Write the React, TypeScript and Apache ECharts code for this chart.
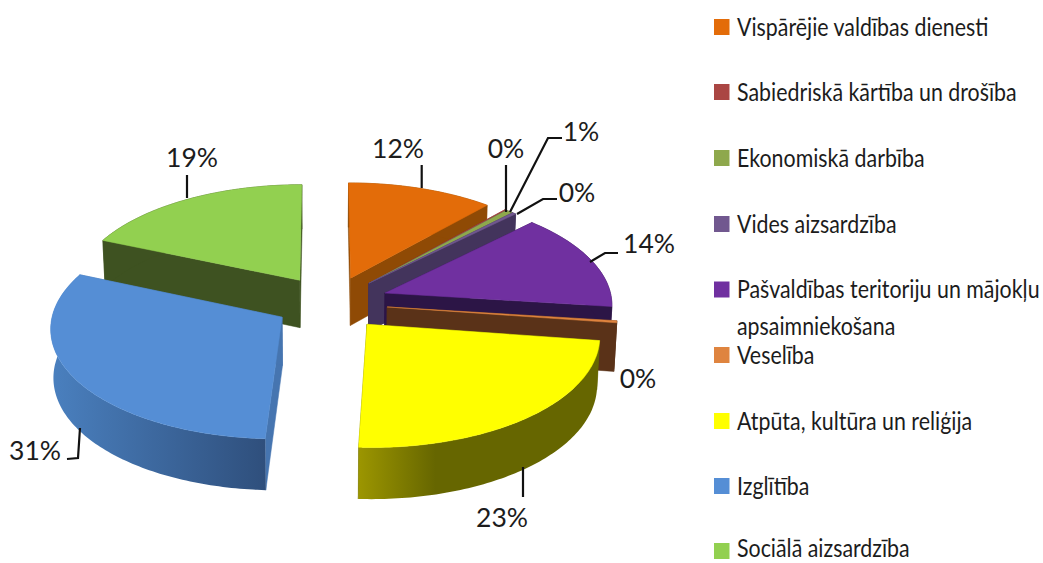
import React, { useEffect, useRef } from "react";
import * as echarts from "echarts";

const categories = [
  "Vispārējie valdības dienesti",
  "Sabiedriskā kārtība un drošība",
  "Ekonomiskā darbība",
  "Vides aizsardzība",
  "Pašvaldības teritoriju un mājokļu\napsaimniekošana",
  "Veselība",
  "Atpūta, kultūra un reliģija",
  "Izglītība",
  "Sociālā aizsardzība",
];
const shares = [11.5, 0.15, 0.6, 0.3, 14.45, 0.3, 23.49, 30.71, 18.5];

const topColors = ["#E36C09", "#AA4643", "#8EA84C", "#71588F", "#7030A0", "#DF843F", "#FFFF00", "#558ED5", "#92D050"];
const faceColors = ["#8F4A05", "#6E2D2B", "#43345C", "#43345C", "#2C1546", "#5A3218", "#666600", "#4675B0", "#3E5221"];
const drawOrder = [8, 0, 1, 2, 3, 4, 5, 7, 6];
const explodeSize = [0.245, 0.258, 0.258, 0.258, 0.276, 0.278, 0.279, 0.238, 0.226];
const explodeBearing = [28, 49.6, 49.6, 49.6, 74.4, 101.4, 139.4, 231.6, 330];

const labelCentres = [[398, 148], [506, 148], [581, 131], [577, 192], [649, 243], [638, 378], [502, 517], [35, 450], [192, 157]];
const leaders = [
  [[421.7, 165], [421.7, 188]],
  [[506, 165], [506, 212]],
  [[562, 138], [548, 138], [510, 212]],
  [[557, 199], [543, 199], [517, 214]],
  [[618, 253], [605, 253], [590, 262]],
  [],
  [[523, 467], [523, 497]],
  [[80, 428], [78, 458], [67, 459]],
  [[187, 175], [187, 198]],
];
const legendY = [27, 92, 158, 224, 289.5, 355, 421, 486, 551];
const legendTextY = [26, 91, 157, 223, 288.5, 354, 420, 485, 547.5];

const CX = 325, CY = 301, RX = 227, RY = 107.7, K = 0.09;
const FONT = "Lato";
const rad = (d: number) => (d * Math.PI) / 180;

function project(u: number, v: number): number[] {
  const w = 1 - K * v;
  return [CX + (RX * u) / w, CY + (RY * v) / w];
}
function drop(u: number, v: number): number[] {
  const p = project(u, v);
  return [CX + (p[0] - CX) * 0.99, p[1] + 48 + 3 * v];
}

const rimFill: Record<number, any> = {
  6: new echarts.graphic.LinearGradient(0, 0, 1, 0, [
    { offset: 0, color: "#9C9600" },
    { offset: 0.32, color: "#666600" },
    { offset: 1, color: "#666600" },
  ]),
  7: new echarts.graphic.LinearGradient(0, 0, 1, 0, [
    { offset: 0, color: "#4A80BF" },
    { offset: 1, color: "#2F4F7C" },
  ]),
};

function renderSlice(params: any, api: any) {
  const idx = drawOrder[params.dataIndex];
  const total = shares.reduce((a, b) => a + b, 0);
  let start = 0;
  for (let i = 0; i < idx; i++) start += (shares[i] / total) * 360;
  const end = start + (api.value(0) / total) * 360;
  const bu = explodeSize[idx] * Math.sin(rad(explodeBearing[idx]));
  const bv = -explodeSize[idx] * Math.cos(rad(explodeBearing[idx]));

  const rim: number[][] = [];
  const n = Math.max(2, Math.ceil(end - start));
  for (let i = 0; i <= n; i++) {
    const a = rad(start + ((end - start) * i) / n);
    rim.push([bu + Math.sin(a), bv - Math.cos(a)]);
  }
  const topRim = rim.map((p) => project(p[0], p[1]));
  const botRim = rim.map((p) => drop(p[0], p[1]));
  const apexTop = project(bu, bv);
  const apexBot = drop(bu, bv);
  const face = faceColors[idx];
  const poly = (points: number[][], fill: any, stroke: any) => ({
    type: "polygon",
    shape: { points },
    style: { fill, stroke, lineWidth: 0.5 },
  });
  return {
    type: "group",
    children: [
      poly([apexTop, topRim[0], botRim[0], apexBot], face, face),
      poly([apexTop, topRim[n], botRim[n], apexBot], face, face),
      poly([...topRim, ...botRim.slice().reverse()], rimFill[idx] || face, rimFill[idx] ? "none" : face),
      poly([apexTop, ...topRim], topColors[idx], topColors[idx]),
    ],
  };
}

export default function App() {
  const ref = useRef<HTMLDivElement>(null);
  useEffect(() => {
    document.body.style.margin = "0";
    const chart = echarts.init(ref.current!, null, { renderer: "svg" });
    const elements: any[] = [];
    shares.forEach((s, i) => {
      elements.push({
        type: "text",
        x: labelCentres[i][0],
        y: labelCentres[i][1],
        z: 10,
        silent: true,
        style: {
          text: Math.round(s) + "%",
          fontFamily: FONT,
          fontSize: 26.5,
          fill: "#1c1c1c",
          align: "center",
          verticalAlign: "middle",
        },
      });
      if (leaders[i].length) {
        elements.push({
          type: "polyline",
          z: 10,
          silent: true,
          shape: { points: leaders[i] },
          style: { stroke: "#111", lineWidth: 2.2, fill: "none" },
        });
      }
    });
    categories.forEach((c, i) => {
      elements.push({
        type: "rect",
        z: 10,
        silent: true,
        shape: { x: 714, y: legendY[i] - 8, width: 15.5, height: 16 },
        style: { fill: topColors[i] },
      });
      c.split("\n").forEach((line, j) => {
        elements.push({
          type: "text",
          x: 737,
          y: legendTextY[i] + j * 37,
          z: 10,
          silent: true,
          scaleX: 0.855,
          style: {
            text: line,
            fontFamily: FONT,
            fontSize: 25,
            fill: "#1c1c1c",
            align: "left",
            verticalAlign: "middle",
          },
        });
      });
    });
    chart.setOption({
      animation: false,
      backgroundColor: "#fff",
      graphic: { elements },
      series: [
        {
          type: "custom",
          coordinateSystem: "none",
          silent: true,
          renderItem: renderSlice,
          data: drawOrder.map((i) => ({ name: categories[i], value: [shares[i]] })),
        },
      ],
    });
    return () => chart.dispose();
  }, []);
  return <div ref={ref} style={{ width: 1043, height: 563 }} />;
}
